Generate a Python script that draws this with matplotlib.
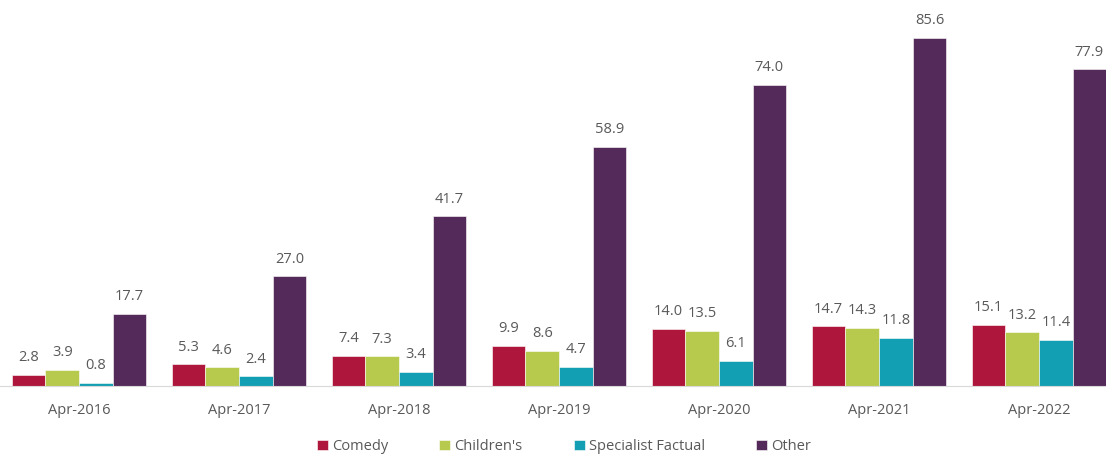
import numpy as np
import matplotlib.pyplot as plt

periods = ["Apr-2016", "Apr-2017", "Apr-2018", "Apr-2019", "Apr-2020", "Apr-2021", "Apr-2022"]
comedy = [2.8, 5.3, 7.4, 9.9, 14.0, 14.7, 15.1]
childrens = [3.9, 4.6, 7.3, 8.6, 13.5, 14.3, 13.2]
specialist = [0.8, 2.4, 3.4, 4.7, 6.1, 11.8, 11.4]
other = [17.7, 27.0, 41.7, 58.9, 74.0, 85.6, 77.9]

series = [
    ("Comedy", comedy, "#AE173B"),
    ("Children's", childrens, "#B7CA4E"),
    ("Specialist Factual", specialist, "#129FB3"),
    ("Other", other, "#532A59"),
]

plt.rcParams['font.family'] = ['Open Sans', 'DejaVu Sans']
txt = "#595959"

fig = plt.figure(figsize=(11.06, 4.57), dpi=100)
ax = fig.add_axes([0, 71 / 457, 1, 386 / 457])

x = np.arange(len(periods))
w = 0.21
for i, (name, vals, col) in enumerate(series):
    pos = x + (i - 1.5) * w
    bars = ax.bar(pos, vals, w, color=col, edgecolor="white", linewidth=0.4, label=name)
    for b, v in zip(bars, vals):
        ax.annotate(f"{v:.1f}", (b.get_x() + b.get_width() / 2, v),
                    xytext=(0, 7), textcoords="offset points",
                    ha="center", va="bottom", fontsize=10.5, color=txt)

ax.set_xlim(-79 / 160, (1106 - 79) / 160)
ax.set_ylim(0, 386 / 4.065)
ax.set_xticks(x)
ax.set_xticklabels(periods, fontsize=10.5, color=txt)
ax.tick_params(axis="x", length=0, pad=12)
ax.set_yticks([])
for s in ["top", "right", "left"]:
    ax.spines[s].set_visible(False)
ax.spines["bottom"].set_color("#D9D9D9")

fig.legend(loc="lower center", bbox_to_anchor=(0.51, -0.022), ncol=4, frameon=False,
           fontsize=10.5, handlelength=0.75, handleheight=0.75, handletextpad=0.3,
           columnspacing=3.5, labelcolor=txt)

fig.savefig("out.png", dpi=100)
